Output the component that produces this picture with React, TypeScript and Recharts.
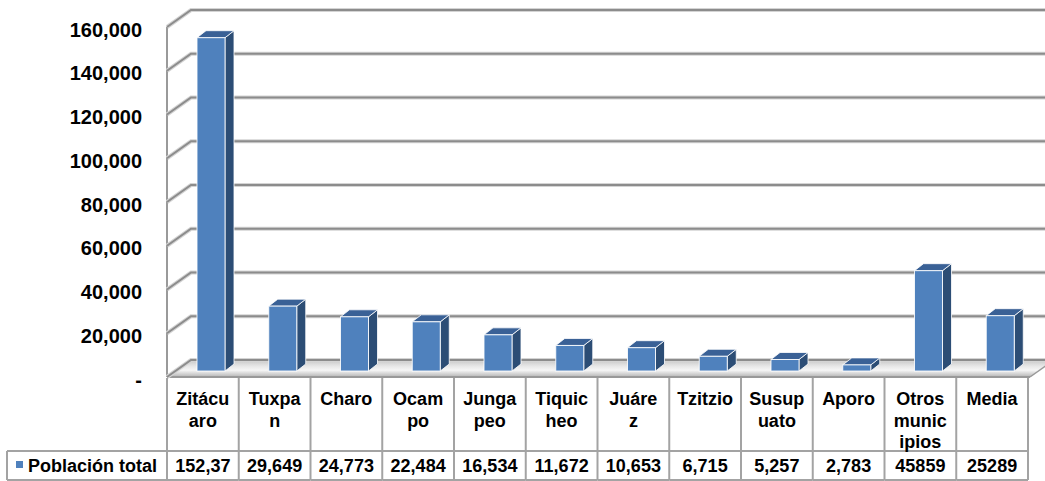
import React from 'react';
import { BarChart, Bar, XAxis, YAxis, CartesianGrid } from 'recharts';

// ---------- data ----------
const categories = [
  'Zitácuaro', 'Tuxpan', 'Charo', 'Ocampo', 'Jungapeo', 'Tiquicheo',
  'Juárez', 'Tzitzio', 'Susupuato', 'Aporo', 'Otros municipios', 'Media',
];
const poblacionTotal = [152370, 29649, 24773, 22484, 16534, 11672, 10653, 6715, 5257, 2783, 45859, 25289];
const categoryLabelLines = [
  ['Zitácu', 'aro'], ['Tuxpa', 'n'], ['Charo'], ['Ocam', 'po'], ['Junga', 'peo'],
  ['Tiquic', 'heo'], ['Juáre', 'z'], ['Tzitzio'], ['Susup', 'uato'], ['Aporo'],
  ['Otros', 'munic', 'ipios'], ['Media'],
];
const tableValueLabels = ['152,37', '29,649', '24,773', '22,484', '16,534', '11,672', '10,653', '6,715', '5,257', '2,783', '45859', '25289'];
const yTicks = [0, 20000, 40000, 60000, 80000, 100000, 120000, 140000, 160000];
const seriesName = 'Población total';

const data = categories.map((name, i) => ({ name, value: poblacionTotal[i] }));

// ---------- layout ----------
const W = 1045;
const H = 481;
const PLOT_L = 167;
const PLOT_R = 1028;
const PLOT_T = 27;
const PLOT_B = 377;
const COL_W = (PLOT_R - PLOT_L) / categories.length;
const WALL_DX = 24;
const WALL_DY = -17;
const FONT = 'Arial, "Liberation Sans", sans-serif';
const GRID_C = '#8c8c8c';
const TABLE_C = '#a3a3a3';
const HEADER_TOP = PLOT_B + 1;
const ROW_SPLIT = 451;
const TABLE_BOTTOM = 480;

const GridLine3D = (props: any) => {
  const { x1, y1, x2, index } = props;
  const bx = x1 + WALL_DX;
  const by = y1 + WALL_DY;
  const isFloor = Math.abs(y1 - PLOT_B) < 1;
  return (
    <g key={`g3d-${index}`}>
      {isFloor && (
        <g>
          <defs>
            <linearGradient id="floorGrad" x1="0" y1="0" x2="0" y2="1">
              <stop offset="0%" stopColor="#c6c6c6" />
              <stop offset="35%" stopColor="#e6e6e6" />
              <stop offset="60%" stopColor="#f6f6f6" />
              <stop offset="100%" stopColor="#b4b4b4" />
            </linearGradient>
          </defs>
          <polygon
            points={`${x1},${y1} ${x2 + 2},${y1} ${x2 + 2 + WALL_DX},${by} ${bx},${by}`}
            fill="url(#floorGrad)"
          />
          <line x1={x1} y1={y1} x2={x2 + 2} y2={y1} stroke="#999" strokeWidth={2} />
          <line x1={x2 + 2} y1={y1} x2={x2 + 2 + WALL_DX} y2={by} stroke="#999" strokeWidth={1.5} />
          <line x1={x1} y1={PLOT_T} x2={x1} y2={PLOT_B} stroke="#9a9a9a" strokeWidth={2} />
        </g>
      )}
      <polyline
        points={`${x1},${y1} ${bx},${by} ${W + 20},${by}`}
        fill="none"
        stroke="#d4d4d4"
        strokeWidth={4}
      />
      <polyline
        points={`${x1},${y1} ${bx},${by} ${W + 20},${by}`}
        fill="none"
        stroke={GRID_C}
        strokeWidth={2}
      />
    </g>
  );
};

const Bar3D = (props: any) => {
  const { x, y, width, height } = props;
  if (width == null || height == null) return null;
  const fx = x + 8;
  const fy = y - 6;
  const dx = 9;
  const dy = -7;
  const w = width;
  const h = height;
  return (
    <g>
      <polygon
        points={`${fx + w},${fy} ${fx + w + dx},${fy + dy} ${fx + w + dx},${fy + h + dy} ${fx + w},${fy + h}`}
        fill="#2C4D75"
        stroke="#ffffff"
        strokeWidth={1}
        strokeOpacity={0.8}
      />
      <polygon
        points={`${fx},${fy} ${fx + dx},${fy + dy} ${fx + w + dx},${fy + dy} ${fx + w},${fy}`}
        fill="#3A6196"
        stroke="#ffffff"
        strokeWidth={1}
        strokeOpacity={0.8}
      />
      <rect x={fx} y={fy} width={w} height={h} fill="#4F81BD" stroke="#ffffff" strokeWidth={1} strokeOpacity={0.85} />
    </g>
  );
};

const YTick = (props: any) => {
  const { y, payload } = props;
  const v = payload.value as number;
  const label = v === 0 ? '-' : v.toLocaleString('en-US');
  return (
    <text
      x={PLOT_L - 25}
      y={y + 9.5}
      textAnchor="end"
      fontFamily={FONT}
      fontWeight="bold"
      fontSize={20}
      fill="#000"
    >
      {label}
    </text>
  );
};

const CategoryTick = (props: any) => {
  const { x, index } = props;
  const left = x - COL_W / 2;
  const right = x + COL_W / 2;
  const lines = categoryLabelLines[index] || [];
  return (
    <g>
      {index === 0 && (
        <g>
          <line x1={left} y1={HEADER_TOP} x2={left} y2={TABLE_BOTTOM} stroke={TABLE_C} strokeWidth={2} />
          <line x1={7} y1={ROW_SPLIT} x2={7} y2={TABLE_BOTTOM} stroke={TABLE_C} strokeWidth={2} />
          <line x1={7} y1={ROW_SPLIT} x2={left} y2={ROW_SPLIT} stroke={TABLE_C} strokeWidth={2} />
          <line x1={7} y1={TABLE_BOTTOM} x2={left} y2={TABLE_BOTTOM} stroke={TABLE_C} strokeWidth={2} />
          <rect x={16} y={461} width={7} height={7} fill="#4F81BD" />
          <text x={28} y={472} fontFamily={FONT} fontWeight="bold" fontSize={18} fill="#000">
            {seriesName}
          </text>
        </g>
      )}
      <line x1={right} y1={HEADER_TOP} x2={right} y2={TABLE_BOTTOM} stroke={TABLE_C} strokeWidth={2} />
      <line x1={left} y1={ROW_SPLIT} x2={right} y2={ROW_SPLIT} stroke={TABLE_C} strokeWidth={2} />
      <line x1={left} y1={TABLE_BOTTOM} x2={right} y2={TABLE_BOTTOM} stroke={TABLE_C} strokeWidth={2} />
      {lines.map((ln, j) => (
        <text
          key={j}
          x={x}
          y={405 + j * 21.5}
          textAnchor="middle"
          fontFamily={FONT}
          fontWeight="bold"
          fontSize={18}
          fill="#000"
        >
          {ln}
        </text>
      ))}
      <text x={x} y={472} textAnchor="middle" fontFamily={FONT} fontWeight="bold" fontSize={18} fill="#000">
        {tableValueLabels[index]}
      </text>
    </g>
  );
};

export default function App() {
  return (
    <div style={{ position: 'absolute', left: 0, top: 0, width: W, height: H, background: '#fff' }}>
      <BarChart
        width={W}
        height={H}
        data={data}
        margin={{ top: PLOT_T, right: W - PLOT_R, bottom: 0, left: 0 }}
      >
        <CartesianGrid vertical={false} horizontal={GridLine3D} />
        <XAxis
          dataKey="name"
          height={H - PLOT_B}
          axisLine={false}
          tickLine={false}
          interval={0}
          tick={<CategoryTick />}
        />
        <YAxis
          width={PLOT_L}
          domain={[0, 160000]}
          ticks={yTicks}
          interval={0}
          axisLine={false}
          tickLine={false}
          tick={<YTick />}
        />
        <Bar
          dataKey="value"
          name={seriesName}
          fill="#4F81BD"
          barSize={28}
          isAnimationActive={false}
          shape={<Bar3D />}
        />
      </BarChart>
    </div>
  );
}
